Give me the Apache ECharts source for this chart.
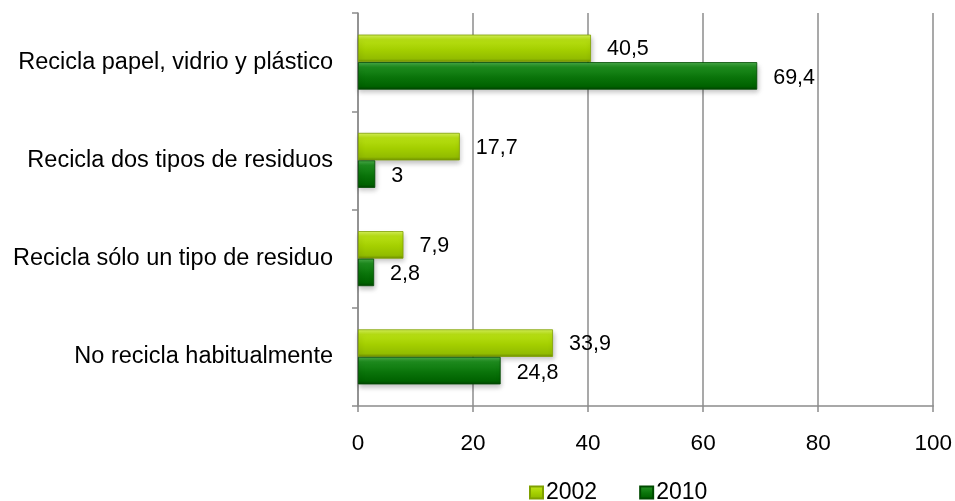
<!DOCTYPE html>
<html><head><meta charset="utf-8">
<script src="https://cdn.jsdelivr.net/npm/echarts@6/dist/echarts.min.js"></script>
<style>html,body{margin:0;padding:0;background:#fff}#c{width:955px;height:501px}</style>
</head><body><div id="c"></div>
<script>
const categories = ["Recicla papel, vidrio y plástico","Recicla dos tipos de residuos","Recicla sólo un tipo de residuo","No recicla habitualmente"];
const seriesNames = ["2002","2010"];
const values2002 = [40.5, 17.7, 7.9, 33.9];
const values2010 = [69.4, 3, 2.8, 24.8];
const xTicks = [0,20,40,60,80,100];

const chart = echarts.init(document.getElementById('c'));
const font = '"Liberation Sans", Arial, sans-serif';
function grad(stops){
  return new echarts.graphic.LinearGradient(0,0,0,1,stops.map((c,i)=>({offset:c[0],color:c[1]})));
}
const g2002 = grad([[0,'#d6f25a'],[0.18,'#b8e014'],[0.55,'#a4cf00'],[0.88,'#92bc00'],[1,'#6e8f00']]);
const g2010 = grad([[0,'#4aab4a'],[0.18,'#1e8c1e'],[0.55,'#0a740a'],[0.88,'#006200'],[1,'#004400']]);
const fmt = p => String(p.value).replace('.', ',');
chart.setOption({
  animation:false,
  grid:{left:358,right:20,top:13,bottom:95,containLabel:false},
  legend:{top:476,left:524,itemGap:42,itemWidth:13,itemHeight:12,icon:'rect',
    textStyle:{fontFamily:font,fontSize:23,color:'#000',padding:[0,0,0,-2]},
    data:seriesNames},
  xAxis:{type:'value',min:0,max:100,interval:20,
    axisLine:{show:true,lineStyle:{color:'#8c8c8c',width:1.5}},
    axisTick:{show:true,length:6,lineStyle:{color:'#8c8c8c',width:1.5}},
    splitLine:{show:true,lineStyle:{color:'#8c8c8c',width:1.5}},
    axisLabel:{fontFamily:font,fontSize:22.5,color:'#000',margin:26,
      formatter:v=>xTicks.includes(v)?String(v):''}},
  yAxis:{type:'category',inverse:true,data:categories,
    axisLine:{show:true,lineStyle:{color:'#8c8c8c',width:1.5}},
    axisTick:{show:true,length:6,lineStyle:{color:'#8c8c8c',width:1.5}},
    axisLabel:{fontFamily:font,fontSize:23.5,color:'#000',margin:25}},
  series:[
    {name:seriesNames[0],type:'bar',data:values2002,barGap:'0%',barCategoryGap:'44%',
      itemStyle:{color:g2002,borderColor:'#7fa000',borderWidth:0.8,
        shadowColor:'rgba(0,0,0,0.25)',shadowBlur:5,shadowOffsetY:3,shadowOffsetX:1},
      label:{show:true,position:'right',distance:16,offset:[0,1],fontFamily:font,fontSize:21.5,color:'#000',formatter:fmt}},
    {name:seriesNames[1],type:'bar',data:values2010,
      itemStyle:{color:g2010,borderColor:'#004a00',borderWidth:0.8,
        shadowColor:'rgba(0,0,0,0.25)',shadowBlur:5,shadowOffsetY:3,shadowOffsetX:1},
      label:{show:true,position:'right',distance:16,offset:[0,2],fontFamily:font,fontSize:21.5,color:'#000',formatter:fmt}}
  ]
});
</script></body></html>
